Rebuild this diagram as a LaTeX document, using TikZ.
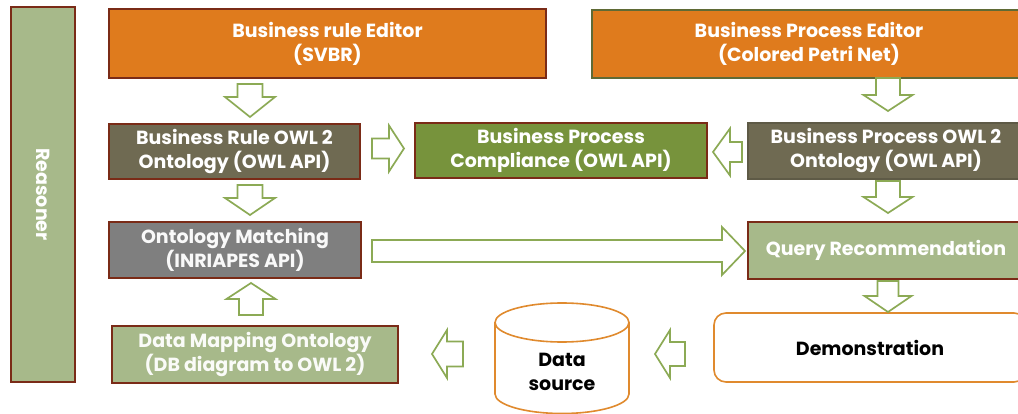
\documentclass[tikz,border=0pt]{standalone}
\usepackage{fontspec}
\setmainfont{Poppins}
\definecolor{orangefill}{HTML}{DF7B1D}
\definecolor{darkred}{HTML}{7A2B17}
\definecolor{olivebrown}{HTML}{6F6A52}
\definecolor{bpgreen}{HTML}{77933C}
\definecolor{graybox}{HTML}{7F7F7F}
\definecolor{sage}{HTML}{A7B98A}
\definecolor{arrowgreen}{HTML}{8CAA55}
\definecolor{cylorange}{HTML}{E08A2E}
\definecolor{bpborder}{HTML}{5F6A35}
\tikzset{
  box/.style={draw=darkred, line width=1.6pt, text=white, align=center, inner sep=0pt,
    font=\fontsize{19}{24}\selectfont\bfseries},
  harrow/.style={draw=arrowgreen, line width=1.7pt, fill=white, line join=miter},
  plain/.style={text=black, align=center, font=\fontsize{19}{24}\selectfont\bfseries},
}
\newcommand\hollowarrow[6]{% center, rotation, length, shaft length, shaft width, head width
  \draw[harrow, shift={(#1)}, rotate=#2]
    ({-#3/2},{-#5/2}) -- ({-#3/2+#4},{-#5/2}) -- ({-#3/2+#4},{-#6/2}) -- ({#3/2},0)
    -- ({-#3/2+#4},{#6/2}) -- ({-#3/2+#4},{#5/2}) -- ({-#3/2},{#5/2}) -- cycle;}
\begin{document}
\begin{tikzpicture}[x=1pt,y=-1pt]
\useasboundingbox[fill=white] (0,0) rectangle (1018,414);
\clip (0,0) rectangle (1018,414);
% boxes
\node[box, fill=sage, minimum width=64pt, minimum height=375pt] (rea) at (43,194.5) {};
\node[text=white, rotate=-90, font=\fontsize{19}{24}\selectfont\bfseries] (reatext) at (rea.center) {Reasoner};
\node[box, fill=orangefill, minimum width=437pt, minimum height=69pt] (bre) at (327.5,43.5) {Business rule Editor\\(SVBR)};
\node[box, fill=orangefill, draw=bpborder, minimum width=434pt, minimum height=68pt] (bpe) at (809,44) {Business Process Editor\\(Colored Petri Net)};
\node[box, fill=olivebrown, minimum width=251pt, minimum height=55pt] (bro) at (234.5,151.5) {Business Rule OWL 2\\Ontology (OWL API)};
\node[box, fill=bpgreen, minimum width=292pt, minimum height=55pt] (bpc) at (561,150.5) {Business Process\\Compliance (OWL API)};
\node[box, fill=olivebrown, draw=olivebrown!85!black, minimum width=276pt, minimum height=56pt] (bpo) at (886,151) {Business Process OWL 2\\Ontology (OWL API)};
\node[box, fill=graybox, text=white!95!gray, minimum width=252pt, minimum height=56pt] (om) at (235,250) {Ontology Matching\\(INRIAPES API)};
\node[box, fill=sage, minimum width=276pt, minimum height=57pt] (qr) at (886,250.5) {Query Recommendation};
\node[box, fill=sage, text=white!94!sage, minimum width=286pt, minimum height=57pt] (dm) at (255,354.5) {Data Mapping Ontology\\(DB diagram to OWL 2)};
\node[draw=cylorange, line width=1.6pt, rounded corners=12pt, fill=white, minimum width=312pt, minimum height=69pt, plain] (demo) at (870,347.5) {Demonstration};
% cylinder
\draw[draw=cylorange, line width=1.6pt, fill=white]
  (495,322.5) -- (495,394) arc[start angle=180, end angle=360, x radius=67pt, y radius=19.5pt] -- (629,322.5);
\draw[draw=cylorange, line width=1.6pt, fill=white] (562,322.5) ellipse[x radius=67pt, y radius=19.5pt];
\node[plain] (ds) at (562,372) {Data\\source};
% arrows
\coordinate (a1) at (250,100.5);
\coordinate (a2) at (888,94.5);
\coordinate (a3) at (388,148.5);
\coordinate (a4) at (727.5,152);
\coordinate (a5) at (250,200);
\coordinate (a6) at (888,197);
\coordinate (a7) at (558.5,251);
\coordinate (a8) at (251,299);
\coordinate (a9) at (888,296.5);
\coordinate (a10) at (670,354);
\coordinate (a11) at (447.5,354);
\hollowarrow{a1}{-90}{33}{13}{25}{50}
\hollowarrow{a2}{-90}{33}{17}{24}{49}
\hollowarrow{a3}{0}{32}{17}{20}{46}
\hollowarrow{a4}{180}{29}{12}{20}{47}
\hollowarrow{a5}{-90}{30}{13}{25}{50}
\hollowarrow{a6}{-90}{32}{16}{24}{49}
\hollowarrow{a7}{0}{373}{350}{22}{48}
\hollowarrow{a8}{90}{32}{16}{24}{49}
\hollowarrow{a9}{-90}{31}{15}{21}{47}
\hollowarrow{a10}{180}{30}{15}{24}{48}
\hollowarrow{a11}{180}{31}{16}{25}{48}
\end{tikzpicture}
\end{document}
